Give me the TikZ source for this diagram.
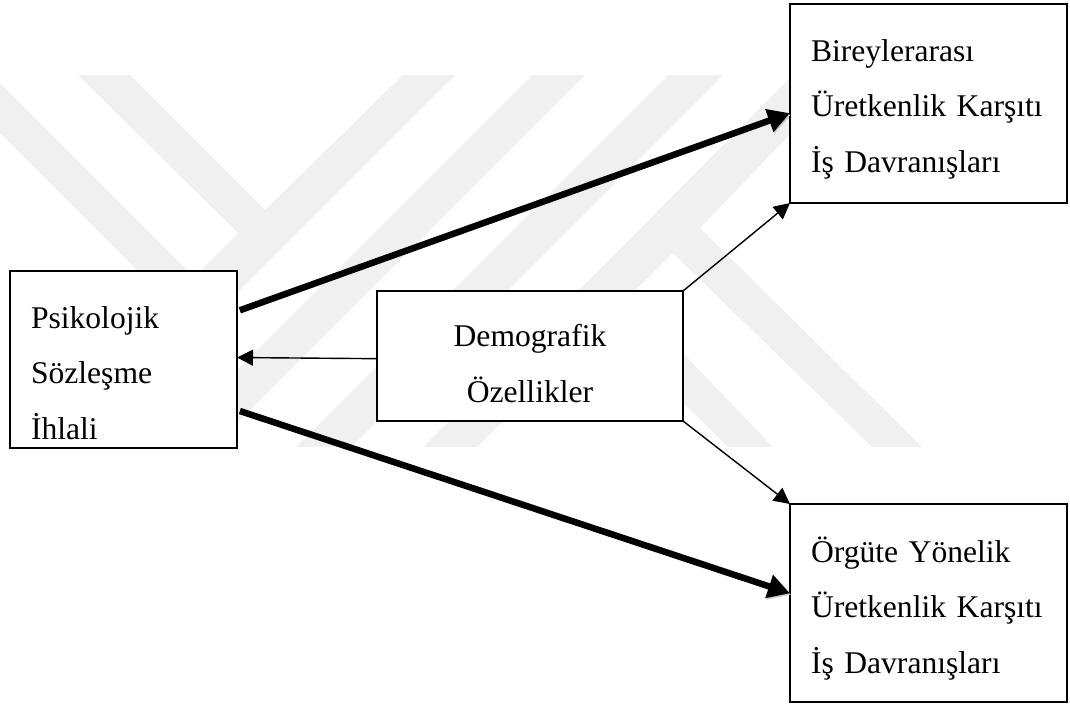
\documentclass[tikz,border=0pt]{standalone}
\usepackage{fontspec}
\setmainfont{Liberation Serif}
\usetikzlibrary{arrows.meta}
\tikzset{
  kutu/.style={draw, fill=white, line width=1.4pt, inner sep=0, outer sep=0, font=\fontsize{31.6}{55.5}\selectfont},
  solkutu/.style={kutu, align=left, inner xsep=21pt},
  ince/.style={line width=1.4pt, -{Triangle[length=16pt, width=16pt]}},
  kalin/.style={line width=6.5pt, shorten <=3pt, -{Triangle[length=22pt, width=23pt]},
    preaction={draw=black!22, transform canvas={xshift=1pt, yshift=-1.5pt}}},
  filigran/.style={fill=black!6}
}

\begin{document}
\begin{tikzpicture}[x=1pt, y=-1pt]
\useasboundingbox (0,0) rectangle (1070,704);

% background mark
\fill[filigran] (0,83) -- (200,283) -- (200,333) -- (0,133) -- cycle;
\fill[filigran] (78,75) -- (130,75) -- (265,210) -- (403,75) -- (455,75) -- (83,447) -- (24,447) -- (238,233) -- cycle;
\fill[filigran] (532,75) -- (585,75) -- (213,447) -- (160,447) -- cycle;
\fill[filigran] (668,75) -- (723,75) -- (351,447) -- (296,447) -- cycle;
\fill[filigran] (793,75) -- (847,75) -- (700,228) -- (922,447) -- (872,447) -- (673,253) -- (477,447) -- (423,447) -- cycle;
\fill[filigran] (629,297) -- (773,447) -- (728,447) -- (603,323) -- cycle;

\node[solkutu, minimum width=227pt, minimum height=177pt, text width=185pt, text height=0pt, text depth=63pt] (ihlal) at (123.5,359.5) {Psikolojik\\Sözleşme\\İhlali};
\node[kutu, align=center, minimum width=306pt, minimum height=130pt, text height=92pt, text depth=0pt] (demografik) at (530,356) {Demografik\\Özellikler};
\node[solkutu, minimum width=277pt, minimum height=199pt, text width=235pt, text height=0pt, text depth=85pt] (bireyler) at (928.5,103.5) {Bireylerarası\\Üretkenlik Karşıtı\\İş Davranışları};
\node[solkutu, minimum width=277pt, minimum height=198pt, text width=235pt, text height=0pt, text depth=82pt] (orgut) at (928.5,603) {Örgüte Yönelik\\Üretkenlik Karşıtı\\İş Davranışları};

\draw[kalin] (ihlal.23) -- (bireyler.184);
\draw[kalin] (ihlal.-24) -- (orgut.176);

\draw[ince] (demografik.181) -- (ihlal.1);
\draw[ince] (demografik.north east) -- (bireyler.south west);
\draw[ince] (demografik.south east) -- (orgut.north west);

\end{tikzpicture}
\end{document}
